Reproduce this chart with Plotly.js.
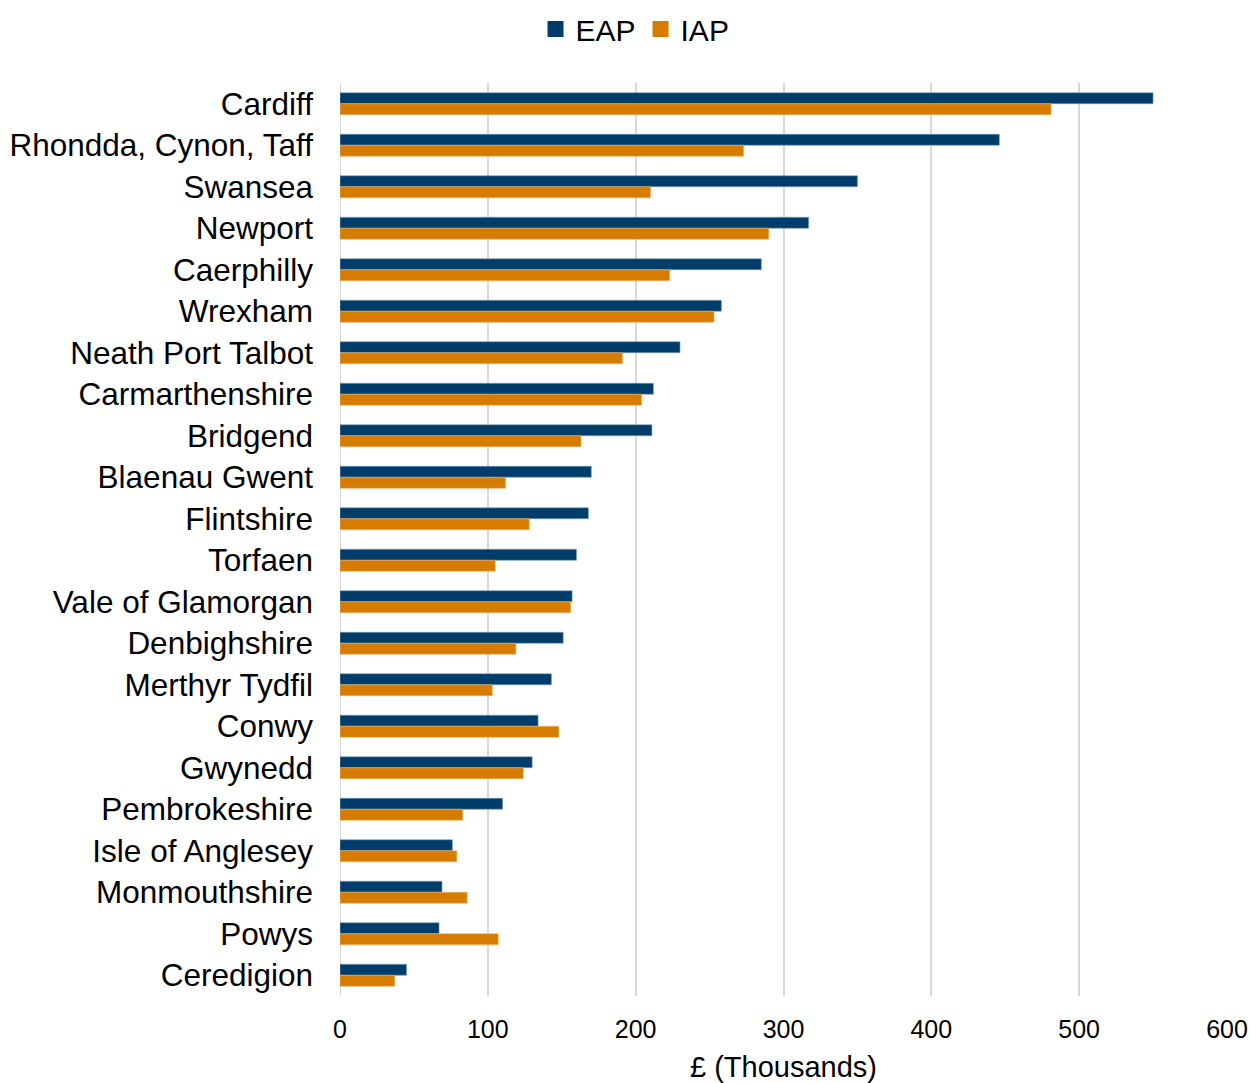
<!DOCTYPE html>
<html>
<head>
<meta charset="utf-8">
<script src="https://cdn.plot.ly/plotly-3.0.1.min.js"></script>
<style>html,body{margin:0;padding:0;background:#fff;}#chart{width:1250px;height:1083px;}</style>
</head>
<body>
<div id="chart"></div>
<script>
const categories = ["Cardiff","Rhondda, Cynon, Taff","Swansea","Newport","Caerphilly","Wrexham","Neath Port Talbot","Carmarthenshire","Bridgend","Blaenau Gwent","Flintshire","Torfaen","Vale of Glamorgan","Denbighshire","Merthyr Tydfil","Conwy","Gwynedd","Pembrokeshire","Isle of Anglesey","Monmouthshire","Powys","Ceredigion"];
const eap = [550, 446, 350, 317, 285, 258, 230, 212, 211, 170, 168, 160, 157, 151, 143, 134, 130, 110, 76, 69, 67, 45];
const iap = [481, 273, 210, 290, 223, 253, 191, 204, 163, 112, 128, 105, 156, 119, 103, 148, 124, 83, 79, 86, 107, 37];
const xTicks = [0, 100, 200, 300, 400, 500, 600];
const seriesNames = ['EAP', 'IAP'];
const colors = ['#003d6b', '#d67c00'];

const font = "Liberation Sans, Arial, sans-serif";
const traces = [
  {type:'bar', orientation:'h', name:seriesNames[0], y:categories, x:eap, showlegend:false,
   marker:{color:colors[0], line:{color:'#7f9fb8', width:0.6}}},
  {type:'bar', orientation:'h', name:seriesNames[1], y:categories, x:iap, showlegend:false,
   marker:{color:colors[1], line:{color:'#eab070', width:0.6}}},
  {type:'scatter', mode:'markers', name:seriesNames[0], x:[null], y:[null], showlegend:true,
   marker:{symbol:'square', size:16, color:colors[0]}},
  {type:'scatter', mode:'markers', name:seriesNames[1], x:[null], y:[null], showlegend:true,
   marker:{symbol:'square', size:16, color:colors[1]}}
];
const layout = {
  width:1250, height:1083,
  margin:{l:340, r:23, t:83, b:87},
  paper_bgcolor:'#fff', plot_bgcolor:'#fff',
  barmode:'group', bargap:0.47, bargroupgap:0,
  font:{family:font, color:'#000', size:24},
  showlegend:true,
  legend:{orientation:'h', x:0.508, xanchor:'center', xref:'container', y:1 - 29/1083, yanchor:'middle', yref:'container',
          font:{size:30, family:font}, traceorder:'normal', itemwidth:30, itemsizing:'trace', tracegroupgap:0},
  xaxis:{range:[0,600], tickvals:xTicks, ticktext:xTicks.map(String), showgrid:true,
         gridcolor:'#d9d9d9', gridwidth:2, zeroline:false, showline:false,
         tickfont:{size:25, family:font}, ticks:'', ticklabelstandoff:16,
         title:{text:'£ (Thousands)', font:{size:29, family:font}, standoff:14}},
  yaxis:{autorange:'reversed', type:'category', showgrid:false, zeroline:false, showline:false,
         ticks:'', tickfont:{size:31.5, family:font}, ticklabelstandoff:26},
  shapes:[{type:'line', xref:'x', yref:'paper', x0:0, x1:0, y0:0, y1:1, line:{color:'#d9d9d9', width:2}, layer:'below'}]
};
Plotly.newPlot('chart', traces, layout, {displayModeBar:false, staticPlot:true});
</script>
</body>
</html>
